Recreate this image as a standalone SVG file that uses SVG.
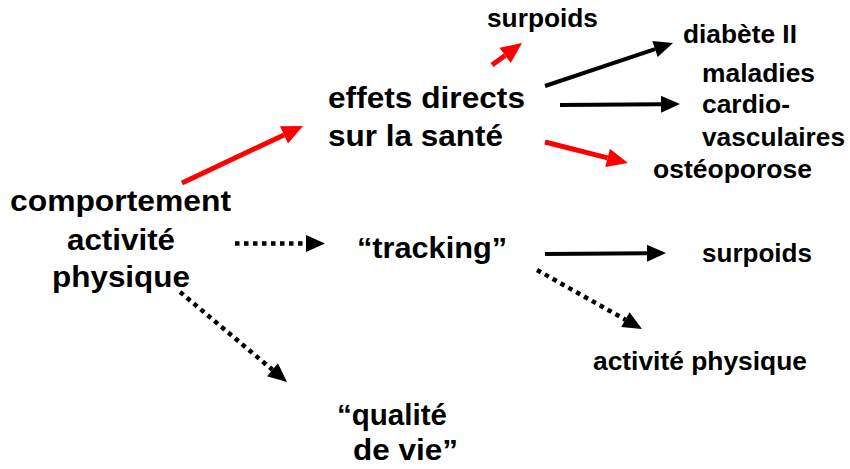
<svg xmlns="http://www.w3.org/2000/svg" width="850" height="469" viewBox="0 0 850 469">
<style>
text{font-family:"Liberation Sans",Arial,sans-serif;font-weight:bold;fill:#000}
.big{font-size:29.5px}
.small{font-size:25px}
.red{stroke:#ff0000;stroke-width:5;fill:none}
.blk{stroke:#000;stroke-width:4;fill:none}
.dot{stroke:#000;stroke-width:4.5;fill:none;stroke-dasharray:4.5 4.5}
</style>
<defs>
<marker id="hr" markerUnits="userSpaceOnUse" markerWidth="24" markerHeight="22" refX="0" refY="11" orient="auto" overflow="visible">
<path d="M0,1.5 L21,11 L0,20.5 Z" fill="#ff0000"/>
</marker>
<marker id="hb" markerUnits="userSpaceOnUse" markerWidth="22" markerHeight="20" refX="0" refY="10" orient="auto" overflow="visible">
<path d="M0,1.5 L19,10 L0,18.5 Z" fill="#000"/>
</marker>
</defs>
<g id="connectors">
<line class="red" x1="182" y1="183" x2="284" y2="134.9" marker-end="url(#hr)"/>
<line class="red" x1="492" y1="65" x2="505.1" y2="55.4" marker-end="url(#hr)"/>
<line class="blk" x1="545" y1="86" x2="655" y2="49.05" marker-end="url(#hb)"/>
<line class="blk" x1="560" y1="105" x2="661" y2="104.2" marker-end="url(#hb)"/>
<line class="red" x1="545" y1="142" x2="607.6" y2="157.85" marker-end="url(#hr)"/>
<line class="dot" x1="235" y1="243.5" x2="306" y2="243.5" marker-end="url(#hb)"/>
<line class="blk" x1="545" y1="254" x2="647" y2="253.2" marker-end="url(#hb)"/>
<line class="dot" x1="537" y1="270" x2="625.4" y2="319.7" marker-end="url(#hb)"/>
<line class="dot" x1="180" y1="292" x2="272.5" y2="369.8" marker-end="url(#hb)"/>
</g>
<g id="comportement">
<text class="big" x="10" y="211" textLength="221" lengthAdjust="spacingAndGlyphs">comportement</text>
<text class="big" x="67" y="249.5" textLength="108" lengthAdjust="spacingAndGlyphs">activité</text>
<text class="big" x="52" y="287" textLength="138" lengthAdjust="spacingAndGlyphs">physique</text>
</g>
<g id="effets">
<text class="big" x="328" y="108" textLength="197" lengthAdjust="spacingAndGlyphs">effets directs</text>
<text class="big" x="328" y="146" textLength="175" lengthAdjust="spacingAndGlyphs">sur la santé</text>
</g>
<g id="surpoids1">
<text class="small" x="487" y="27" textLength="111" lengthAdjust="spacingAndGlyphs">surpoids</text>
</g>
<g id="diabete">
<text class="small" x="683" y="43" textLength="114" lengthAdjust="spacingAndGlyphs">diabète II</text>
</g>
<g id="maladies">
<text class="small" x="702" y="82" textLength="113" lengthAdjust="spacingAndGlyphs">maladies</text>
<text class="small" x="702" y="112.5" textLength="88" lengthAdjust="spacingAndGlyphs">cardio-</text>
<text class="small" x="702" y="145.5" textLength="143" lengthAdjust="spacingAndGlyphs">vasculaires</text>
</g>
<g id="osteoporose">
<text class="small" x="653" y="177.5" textLength="159" lengthAdjust="spacingAndGlyphs">ostéoporose</text>
</g>
<g id="tracking">
<text class="big" x="357" y="258" textLength="150" lengthAdjust="spacingAndGlyphs">“tracking”</text>
</g>
<g id="surpoids2">
<text class="small" x="702" y="262" textLength="110" lengthAdjust="spacingAndGlyphs">surpoids</text>
</g>
<g id="activite">
<text class="small" x="593" y="370" textLength="214" lengthAdjust="spacingAndGlyphs">activité physique</text>
</g>
<g id="qualite">
<text class="big" x="337" y="425" textLength="110" lengthAdjust="spacingAndGlyphs">“qualité</text>
<text class="big" x="353" y="460" textLength="105" lengthAdjust="spacingAndGlyphs">de vie”</text>
</g>
</svg>
